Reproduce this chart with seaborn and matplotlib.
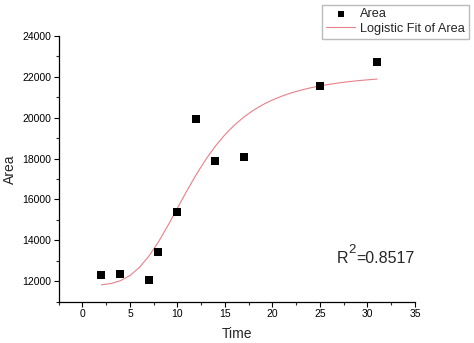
import matplotlib
matplotlib.use("Agg")
import matplotlib.pyplot as plt
from matplotlib.ticker import MultipleLocator
import seaborn as sns
import pandas as pd

# Observed data
time = [2, 4, 7, 8, 10, 12, 14, 17, 25, 31]
area = [12310, 12360, 12030, 13420, 15370, 19945, 17885, 18080, 21550, 22710]

# Logistic fit curve
fit_time = [2, 3, 4, 5, 6, 7, 8, 9, 10, 11, 12, 13, 14, 15, 16, 17, 18, 19, 20,
            21, 22, 23, 24, 25, 26, 27, 28, 29, 30, 31]
fit_area = [11819, 11879, 12019, 12273, 12673, 13227, 13922, 14723, 15576, 16428,
            17235, 17969, 18615, 19171, 19642, 20037, 20368, 20641, 20869, 21059,
            21218, 21350, 21462, 21556, 21636, 21704, 21762, 21812, 21854, 21892]

x_ticks = [0, 5, 10, 15, 20, 25, 30, 35]
y_ticks = [12000, 14000, 16000, 18000, 20000, 22000, 24000]

sns.set_style("ticks")
plt.rcParams['font.family'] = ['Liberation Sans', 'DejaVu Sans']

df = pd.DataFrame({"Time": time, "Area": area})
fit = pd.DataFrame({"Time": fit_time, "Area": fit_area})

fig = plt.figure(figsize=(4.74, 3.43), dpi=100)
ax = fig.add_axes([58.7 / 474, 1 - 301.5 / 343, (415 - 58.7) / 474, (301.5 - 36) / 343])

sns.lineplot(data=fit, x="Time", y="Area", ax=ax, color="#e8808a", linewidth=0.8,
             label="Logistic Fit of Area", legend=False)
sns.scatterplot(data=df, x="Time", y="Area", ax=ax, marker="s", color="black",
                s=26, edgecolor="black", linewidth=0, label="Area", legend=False, zorder=3)

ax.set_xlim(-2.5, 35)
ax.set_ylim(11000, 24000)
ax.set_xticks(x_ticks)
ax.set_yticks(y_ticks)
ax.xaxis.set_minor_locator(MultipleLocator(2.5))
ax.yaxis.set_minor_locator(MultipleLocator(1000))
ax.tick_params(axis='both', which='major', direction='out', length=3.5, width=0.8,
               labelsize=7.5, colors='black', pad=2)
ax.tick_params(axis='both', which='minor', direction='out', length=2, width=0.8)

for s in ['top', 'right']:
    ax.spines[s].set_visible(False)
for s in ['left', 'bottom']:
    ax.spines[s].set_linewidth(0.9)
    ax.spines[s].set_color('black')

ax.set_xlabel("Time", fontsize=10, labelpad=6)
ax.set_ylabel("Area", fontsize=10, labelpad=4)

# R^2 annotation with a large superscript
t_r = ax.text(26.8, 12900, "R", fontsize=11.5, va='baseline', ha='left')
t_2 = ax.annotate("2", xy=(1.0, 0.62), xycoords=t_r, fontsize=9.5,
                  va='bottom', ha='left')
ax.annotate("=0.8517", xy=(1.0, 0.0), xycoords=(t_2, t_r), fontsize=11.5,
            va='bottom', ha='left')

handles, labels = ax.get_legend_handles_labels()
order = [labels.index("Area"), labels.index("Logistic Fit of Area")]
leg = fig.legend([handles[i] for i in order], [labels[i] for i in order],
                 loc='upper right', bbox_to_anchor=(469 / 474, 1 - 4.5 / 343),
                 fontsize=9.2, frameon=True, fancybox=False, edgecolor='#aaaaaa',
                 borderpad=0.3, handlelength=2.3, handletextpad=0.4,
                 labelspacing=0.2, borderaxespad=0, markerscale=0.75)
leg.get_frame().set_linewidth(1.0)

fig.savefig("out.png", dpi=100)
